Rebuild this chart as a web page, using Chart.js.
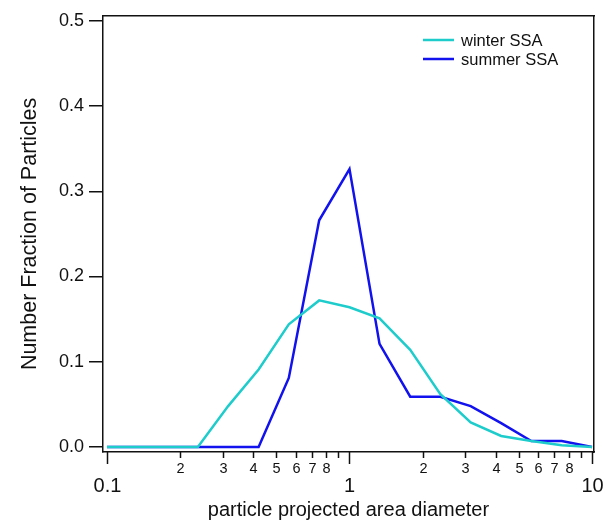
<!DOCTYPE html>
<html>
<head>
<meta charset="utf-8">
<script src="https://cdn.jsdelivr.net/npm/chart.js@4/dist/chart.umd.min.js"></script>
<style>
    body { margin: 0; background: #fff; }
    #wrap { width: 605px; height: 523px; }
</style>
</head>
<body>
<div id="wrap"><canvas id="sizeChart" width="605" height="523"></canvas></div>
<script>
// Size distribution of SSA particles - winter vs summer

const diameters = [0.1, 0.133, 0.178, 0.237, 0.316, 0.422, 0.562, 0.75, 1, 1.33, 1.78, 2.37, 3.16, 4.22, 5.62, 7.5, 10];
const winterSSA = [0, 0, 0, 0, 0.048, 0.091, 0.144, 0.172, 0.164, 0.151, 0.114, 0.062, 0.029, 0.013, 0.007, 0.002, 0.0];
const summerSSA = [0, 0, 0, 0, 0, 0, 0.081, 0.266, 0.326, 0.121, 0.059, 0.059, 0.048, 0.028, 0.007, 0.007, 0.0];

const yTicks = [0, 0.1, 0.2, 0.3, 0.4, 0.5];
const xMajorTicks = [0.1, 1, 10];
const xMajorLabels = ['0.1', '1', '10'];
const xMinorTicks = [0.2, 0.3, 0.4, 0.5, 0.6, 0.7, 0.8, 0.9, 2, 3, 4, 5, 6, 7, 8, 9];
const xMinorLabels = ['2', '3', '4', '5', '6', '7', '8', '', '2', '3', '4', '5', '6', '7', '8', ''];

const FONT = '"Liberation Sans", Arial, sans-serif';
const INK = '#111';

// x axis tick marks + labels (two sizes, like the original log axis)
const logTicksPlugin = {
    id: 'logTicks',
    afterDraw(chart) {
        const ctx = chart.ctx;
        const xs = chart.scales.x;
        const y0 = chart.chartArea.bottom;
        ctx.save();
        ctx.strokeStyle = INK;
        ctx.fillStyle = INK;
        ctx.lineWidth = 1.5;
        ctx.textAlign = 'center';
        ctx.textBaseline = 'middle';

        ctx.font = '14.5px ' + FONT;
        xMinorTicks.forEach((v, i) => {
            const px = Math.round(xs.getPixelForValue(v)) + 0.5;
            ctx.beginPath();
            ctx.moveTo(px, y0);
            ctx.lineTo(px, y0 + 6);
            ctx.stroke();
            if (xMinorLabels[i]) ctx.fillText(xMinorLabels[i], px, y0 + 17);
        });

        ctx.font = '20px ' + FONT;
        xMajorTicks.forEach((v, i) => {
            const px = Math.round(xs.getPixelForValue(v)) + 0.5;
            ctx.beginPath();
            ctx.moveTo(px, y0);
            ctx.lineTo(px, y0 + 12);
            ctx.stroke();
            ctx.fillText(xMajorLabels[i], px, y0 + 34);
        });
        ctx.restore();
    }
};

// simple legend in the top right corner of the frame
const cornerLegendPlugin = {
    id: 'cornerLegend',
    afterDraw(chart) {
        const ctx = chart.ctx;
        ctx.save();
        ctx.font = '16.5px ' + FONT;
        ctx.textBaseline = 'middle';
        ctx.textAlign = 'left';
        chart.data.datasets.forEach((ds, i) => {
            const y = 40 + i * 19;
            ctx.strokeStyle = ds.borderColor;
            ctx.lineWidth = 2.5;
            ctx.beginPath();
            ctx.moveTo(423, y);
            ctx.lineTo(454, y);
            ctx.stroke();
            ctx.fillStyle = INK;
            ctx.fillText(ds.label, 461, y + 1);
        });
        ctx.restore();
    }
};

const ctx = document.getElementById('sizeChart');

new Chart(ctx, {
    type: 'line',
    data: {
        datasets: [{
            label: 'winter SSA',
            data: diameters.map((d, i) => ({ x: d, y: winterSSA[i] })),
            borderColor: '#1ecccc',
            borderWidth: 2.5,
            pointRadius: 0,
            tension: 0
        }, {
            label: 'summer SSA',
            data: diameters.map((d, i) => ({ x: d, y: summerSSA[i] })),
            borderColor: '#1212ee',
            borderWidth: 2.5,
            pointRadius: 0,
            tension: 0
        }]
    },
    options: {
        responsive: false,
        animation: false,
        layout: { padding: { top: 14, right: 11, left: 0, bottom: 0 } },
        plugins: {
            legend: { display: false },
            tooltip: { enabled: false }
        },
        scales: {
            x: {
                type: 'logarithmic',
                position: 'bottom',
                min: 0.0963,
                max: 10.19,
                grid: { display: false, drawTicks: false },
                border: { display: true, color: INK, width: 1.5 },
                ticks: { display: false },
                title: {
                    display: true,
                    text: 'particle projected area diameter',
                    color: INK,
                    font: { family: FONT, size: 20 },
                    padding: { top: 0, bottom: 1 }
                },
                afterFit: scale => { scale.height = 71; }
            },
            y: {
                type: 'linear',
                position: 'left',
                min: -0.0058,
                max: 0.5058,
                afterBuildTicks: scale => { scale.ticks = yTicks.map(v => ({ value: v })); },
                grid: { drawOnChartArea: false, tickLength: 14, color: INK, lineWidth: 1.5 },
                border: { display: true, color: INK, width: 1.5 },
                ticks: {
                    color: INK,
                    padding: 5,
                    font: { family: FONT, size: 18 },
                    callback: v => v.toFixed(1)
                },
                title: {
                    display: true,
                    text: 'Number Fraction of Particles',
                    color: INK,
                    font: { family: FONT, size: 21.5 },
                    padding: { top: 17, bottom: 0 }
                },
                afterFit: scale => { scale.width = 103; }
            },
            xTop: {
                type: 'linear',
                position: 'top',
                min: 0, max: 1,
                grid: { display: false, drawTicks: false },
                ticks: { display: false },
                border: { display: true, color: INK, width: 1.5 }
            },
            yRight: {
                type: 'linear',
                position: 'right',
                min: 0, max: 1,
                grid: { display: false, drawTicks: false },
                ticks: { display: false },
                border: { display: true, color: INK, width: 1.5 }
            }
        }
    },
    plugins: [logTicksPlugin, cornerLegendPlugin]
});
</script>
</body>
</html>
